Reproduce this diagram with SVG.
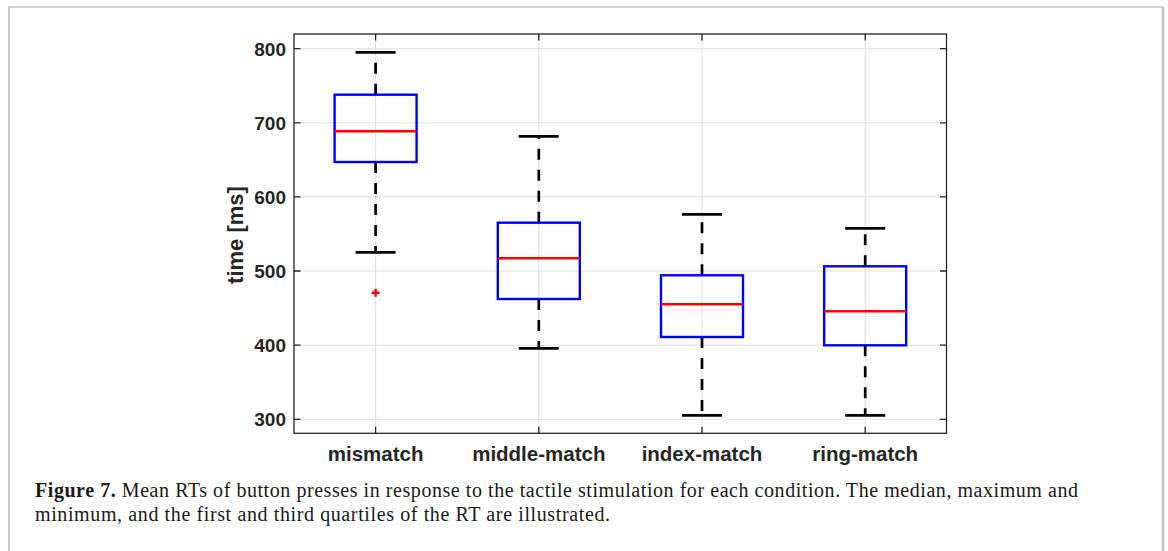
<svg xmlns="http://www.w3.org/2000/svg" width="1168" height="551" viewBox="0 0 1168 551">
<style>
.grid{stroke:#dfdfdf;stroke-width:1;fill:none}
.axis{stroke:#262626;stroke-width:1.3;fill:none}
.tick{stroke:#262626;stroke-width:1.3}
.box{fill:none;stroke:#0000ff;stroke-width:2.4}
.med{stroke:#ff0000;stroke-width:2.6}
.whisk{stroke:#000;stroke-width:2.7;stroke-dasharray:11 10}
.cap{stroke:#000;stroke-width:2.8}
.out{stroke:#ff0000;stroke-width:2.4}
.yt{font-family:"Liberation Sans",Arial,sans-serif;font-weight:bold;font-size:19px;fill:#262626;text-anchor:end}
.xt{font-family:"Liberation Sans",Arial,sans-serif;font-weight:bold;font-size:20.5px;fill:#262626;text-anchor:middle}
.yl{font-family:"Liberation Sans",Arial,sans-serif;font-weight:bold;font-size:22px;fill:#262626;text-anchor:middle}
.cap-t{font-family:"Liberation Serif","Times New Roman",serif;font-size:20px;fill:#1a1a1a}
.frame{stroke:#c6c6c6;fill:none}
</style>
<rect width="1168" height="551" fill="#fff"/>
<g id="frame">
<line class="frame" x1="8" y1="7" x2="1163" y2="7" stroke-width="1.6"/>
<line class="frame" x1="9" y1="7" x2="9" y2="551" stroke-width="2"/>
<line class="frame" x1="1163" y1="7" x2="1163" y2="551" stroke-width="2.5"/>
</g>
<g id="grid">
<line class="grid" x1="294" y1="48.7" x2="946.5" y2="48.7"/>
<line class="grid" x1="294" y1="122.8" x2="946.5" y2="122.8"/>
<line class="grid" x1="294" y1="196.9" x2="946.5" y2="196.9"/>
<line class="grid" x1="294" y1="271" x2="946.5" y2="271"/>
<line class="grid" x1="294" y1="345.2" x2="946.5" y2="345.2"/>
<line class="grid" x1="294" y1="419.3" x2="946.5" y2="419.3"/>
<line class="grid" x1="375.6" y1="34" x2="375.6" y2="433.3"/>
<line class="grid" x1="538.8" y1="34" x2="538.8" y2="433.3"/>
<line class="grid" x1="702" y1="34" x2="702" y2="433.3"/>
<line class="grid" x1="865.2" y1="34" x2="865.2" y2="433.3"/>
</g>
<g id="axes">
<rect class="axis" x="294" y="34" width="652.5" height="399.3"/>
<path class="tick" d="M294 48.7h6.5M294 122.8h6.5M294 196.9h6.5M294 271h6.5M294 345.2h6.5M294 419.3h6.5M946.5 48.7h-6.5M946.5 122.8h-6.5M946.5 196.9h-6.5M946.5 271h-6.5M946.5 345.2h-6.5M946.5 419.3h-6.5M375.6 433.3v-6.5M538.8 433.3v-6.5M702 433.3v-6.5M865.2 433.3v-6.5M375.6 34v6.5M538.8 34v6.5M702 34v6.5M865.2 34v6.5"/>
<text class="yt" x="286" y="55.5">800</text>
<text class="yt" x="286" y="129.6">700</text>
<text class="yt" x="286" y="203.7">600</text>
<text class="yt" x="286" y="277.8">500</text>
<text class="yt" x="286" y="352">400</text>
<text class="yt" x="286" y="426.1">300</text>
<text class="xt" x="375.6" y="461">mismatch</text>
<text class="xt" x="538.8" y="461">middle-match</text>
<text class="xt" x="702" y="461">index-match</text>
<text class="xt" x="865.2" y="461">ring-match</text>
<text class="yl" transform="translate(243,235) rotate(-90)">time [ms]</text>
</g>
<g id="connectors">
<line class="whisk" x1="375.6" y1="94.7" x2="375.6" y2="52.3"/>
<line class="whisk" x1="375.6" y1="162" x2="375.6" y2="252.3"/>
<line class="whisk" x1="538.8" y1="222.7" x2="538.8" y2="136.3"/>
<line class="whisk" x1="538.8" y1="299" x2="538.8" y2="348.3"/>
<line class="whisk" x1="702" y1="275.3" x2="702" y2="214.3"/>
<line class="whisk" x1="702" y1="337" x2="702" y2="415.3"/>
<line class="whisk" x1="865.2" y1="266.3" x2="865.2" y2="228.3"/>
<line class="whisk" x1="865.2" y1="345.3" x2="865.2" y2="415.3"/>
</g>
<g id="mismatch">
<line class="cap" x1="355.6" y1="52.3" x2="395.6" y2="52.3"/>
<line class="cap" x1="355.6" y1="252.3" x2="395.6" y2="252.3"/>
<rect class="box" x="334.6" y="94.7" width="82" height="67.3"/>
<line class="med" x1="334.6" y1="131.3" x2="416.6" y2="131.3"/>
<path class="out" d="M371.6 292.7h8M375.6 288.7v8"/>
</g>
<g id="middle-match">
<line class="cap" x1="518.8" y1="136.3" x2="558.8" y2="136.3"/>
<line class="cap" x1="518.8" y1="348.3" x2="558.8" y2="348.3"/>
<rect class="box" x="497.8" y="222.7" width="82" height="76.3"/>
<line class="med" x1="497.8" y1="258.3" x2="579.8" y2="258.3"/>
</g>
<g id="index-match">
<line class="cap" x1="682" y1="214.3" x2="722" y2="214.3"/>
<line class="cap" x1="682" y1="415.3" x2="722" y2="415.3"/>
<rect class="box" x="661" y="275.3" width="82" height="61.7"/>
<line class="med" x1="661" y1="304.3" x2="743" y2="304.3"/>
</g>
<g id="ring-match">
<line class="cap" x1="845.2" y1="228.3" x2="885.2" y2="228.3"/>
<line class="cap" x1="845.2" y1="415.3" x2="885.2" y2="415.3"/>
<rect class="box" x="824.2" y="266.3" width="82" height="79"/>
<line class="med" x1="824.2" y1="311.3" x2="906.2" y2="311.3"/>
</g>
<g id="caption">
<text class="cap-t" x="35" y="497" textLength="1043" lengthAdjust="spacing"><tspan font-weight="bold">Figure 7.</tspan> Mean RTs of button presses in response to the tactile stimulation for each condition. The median, maximum and</text>
<text class="cap-t" x="35" y="521" textLength="575" lengthAdjust="spacing">minimum, and the first and third quartiles of the RT are illustrated.</text>
</g>
</svg>
